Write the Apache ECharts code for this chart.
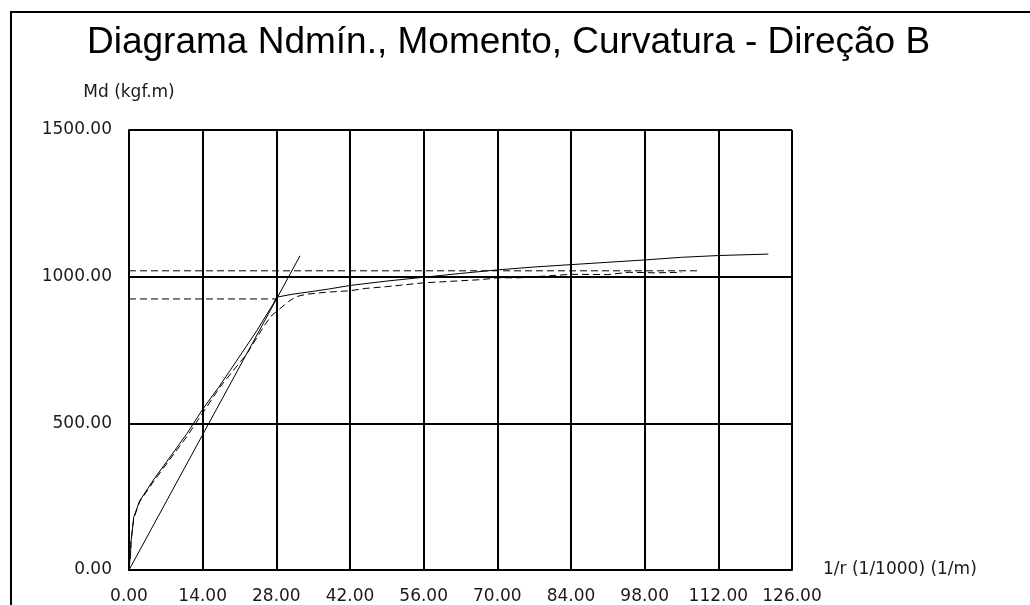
<!DOCTYPE html>
<html>
<head>
<meta charset="utf-8">
<script src="https://cdn.jsdelivr.net/npm/echarts@6/dist/echarts.min.js"></script>
<style>
  html, body { margin: 0; padding: 0; background: #fff; }
  #chart { width: 1030px; height: 605px; }
</style>
</head>
<body>
<div id="chart"></div>
<script>
// eixo x: curvatura 1/r (1/1000) (1/m), eixo y: Md (kgf.m)
var xTicks = [0, 14, 28, 42, 56, 70, 84, 98, 112, 126];
var yTicks = [0, 500, 1000, 1500];

// curva momento-curvatura (linha cheia)
var curvaCheia = [
  [0, 0], [0.3, 60], [0.4, 100], [0.9, 180], [2, 235], [4.6, 306], [7.8, 385],
  [11, 465], [14, 548], [17, 622], [19.2, 680], [24.3, 816], [27.4, 907],
  [28.05, 930], [31, 940], [35, 950], [38, 958], [42, 970], [49, 985],
  [56, 998], [63, 1011], [70, 1023], [77, 1033], [84, 1041], [91, 1049],
  [98, 1057], [105, 1066], [112, 1072], [121.5, 1077]
];

// curva tracejada
var curvaTracejada = [
  [0, 0], [0.3, 60], [0.4, 100], [0.9, 175], [2, 232], [4.6, 300], [7.8, 378],
  [11, 455], [14, 535], [17.3, 624], [22.4, 737], [25.5, 827], [27, 866],
  [28.3, 885], [30.3, 915], [31.8, 932], [33.7, 940], [37.5, 947], [42, 952],
  [45, 960], [49, 966], [56, 979], [63, 986], [67, 990], [70, 996], [74, 996],
  [84, 1008], [91, 1007], [95, 1015], [100, 1013], [105, 1015]
];

// reta secante
var retaSecante = [[0, 0], [32.5, 1071]];

// linhas horizontais tracejadas
var linhaSup = [[0, 1020], [108.5, 1020]];
var linhaInf = [[0, 924], [28, 924]];

var chart = echarts.init(document.getElementById('chart'));

function lineSeries(data, dashed) {
  return {
    type: 'line',
    data: data,
    symbol: 'none',
    silent: true,
    lineStyle: {
      color: '#000',
      width: 1,
      type: dashed ? [7, 4] : 'solid',
    },
  };
}

var labelFont = {
  fontFamily: 'DejaVu Sans',
  fontSize: 17,
  color: '#1a1a1a',
};

chart.setOption({
  animation: false,
  backgroundColor: '#fff',
  graphic: [
    {
      type: 'polyline',
      shape: { points: [[11, 620], [11, 12], [1045, 12]] },
      style: { stroke: '#000', lineWidth: 2, fill: null },
    },
    {
      type: 'text',
      left: 87,
      top: 24,
      style: {
        text: 'Diagrama Ndmín., Momento, Curvatura - Direção B',
        fontFamily: 'Liberation Sans',
        fontSize: 37,
        fill: '#000',
      },
    },
  ],
  grid: {
    left: 129,
    right: 238,
    top: 130,
    bottom: 35,
  },
  xAxis: {
    type: 'value',
    min: 0,
    max: 126,
    interval: 14,
    name: '1/r (1/1000) (1/m)',
    nameLocation: 'end',
    nameGap: 31,
    nameTextStyle: Object.assign({ padding: [0, 0, 8, 0] }, labelFont),
    axisLine: { show: true, lineStyle: { color: '#000', width: 2 } },
    axisTick: { show: false },
    axisLabel: Object.assign({
      margin: 18,
      formatter: function (v) { return v.toFixed(2); },
    }, labelFont),
    splitLine: { show: true, lineStyle: { color: '#000', width: 2 } },
  },
  yAxis: {
    type: 'value',
    min: 0,
    max: 1500,
    interval: 500,
    name: 'Md (kgf.m)',
    nameLocation: 'end',
    nameGap: 29,
    nameTextStyle: labelFont,
    axisLine: { show: true, lineStyle: { color: '#000', width: 2 } },
    axisTick: { show: false },
    axisLabel: Object.assign({
      margin: 17,
      formatter: function (v) { return v.toFixed(2); },
    }, labelFont),
    splitLine: { show: true, lineStyle: { color: '#000', width: 2 } },
  },
  series: [
    lineSeries(curvaCheia, false),
    lineSeries(curvaTracejada, true),
    lineSeries(retaSecante, false),
    lineSeries(linhaSup, true),
    lineSeries(linhaInf, true),
  ],
});
</script>
</body>
</html>
